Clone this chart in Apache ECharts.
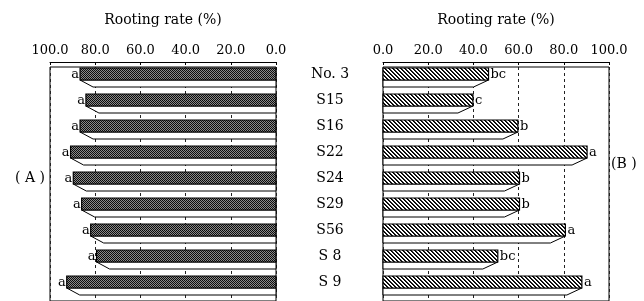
<!DOCTYPE html>
<html><head><meta charset="utf-8">
<script src="https://cdn.jsdelivr.net/npm/echarts@6/dist/echarts.min.js"></script>
<style>html,body{margin:0;padding:0;background:#fff}#c{width:644px;height:301px}</style>
</head><body><div id="c"></div>
<script>
const categories = ["No. 3", "S15", "S16", "S22", "S24", "S29", "S56", "S 8", "S 9"];
const rateA = [86.7, 84.1, 86.7, 90.9, 89.7, 86.0, 82.0, 79.4, 92.6];
const lettersA = ["a", "a", "a", "a", "a", "a", "a", "a", "a"];
const rateB = [46.7, 39.8, 59.7, 90.3, 60.4, 60.4, 80.7, 50.8, 88.0];
const lettersB = ["bc", "c", "b", "a", "b", "b", "a", "bc", "a"];
const tickValues = [0, 20, 40, 60, 80, 100];

const SERIF = "DejaVu Serif";

function makePattern(kind) {
  const cv = document.createElement('canvas');
  const ctx = cv.getContext('2d');
  if (kind === 'stipple') {
    cv.width = 2; cv.height = 2;
    ctx.fillStyle = '#0c0c0c'; ctx.fillRect(0, 0, 2, 2);
    ctx.fillStyle = '#8a8a8a'; ctx.fillRect(1, 0, 1, 1); ctx.fillRect(0, 1, 1, 1);
  } else {
    cv.width = 4; cv.height = 4;
    ctx.fillStyle = '#ffffff'; ctx.fillRect(0, 0, 4, 4);
    for (let i = 0; i < 4; i++) {
      ctx.fillStyle = '#000'; ctx.fillRect(i, i, 1, 1);
      ctx.fillStyle = '#222'; ctx.fillRect((i + 1) % 4, i, 1, 1);
    }
  }
  return cv;
}
const patA = makePattern('stipple');
const patB = makePattern('hatch');

function makeRender(side, pattern, letters) {
  return function (params, api) {
    const idx = api.value(1);
    const val = api.value(0);
    const p0 = api.coord([0, idx]);
    const pv = api.coord([val, idx]);
    const cy = p0[1];
    const x0 = p0[0], xv = pv[0];
    const top = cy - 12, bot = cy;
    const sh = 7;
    const left = Math.min(x0, xv), w = Math.abs(xv - x0);
    const font = '13px "' + SERIF + '"';
    const children = [];
    let shadowPts;
    if (side === 'left') {
      shadowPts = [[xv, bot], [xv + 13, bot + sh], [x0, bot + sh], [x0, bot]];
    } else {
      shadowPts = [[xv, bot], [xv - 15, bot + sh], [x0, bot + sh], [x0, bot]];
    }
    children.push({ type: 'polygon', shape: { points: shadowPts }, style: { fill: '#fff', stroke: '#000', lineWidth: 1 } });
    children.push({ type: 'rect', shape: { x: left, y: top, width: w, height: 12 }, style: { fill: { image: pattern, repeat: 'repeat' }, stroke: '#000', lineWidth: 1.2 } });
    if (side === 'left') {
      children.push({ type: 'text', style: { text: letters[params.dataIndex], x: xv - 1, y: cy - 5, align: 'right', verticalAlign: 'middle', font: font, fill: '#000' } });
    } else {
      children.push({ type: 'text', style: { text: letters[params.dataIndex], x: xv + 2, y: cy - 5, align: 'left', verticalAlign: 'middle', font: font, fill: '#000' } });
      children.push({ type: 'text', style: { text: categories[params.dataIndex], x: x0 - 53, y: cy - 6, align: 'center', verticalAlign: 'middle', font: '14px "' + SERIF + '"', fill: '#000' } });
    }
    return { type: 'group', children: children };
  };
}

const axisText = { fontFamily: SERIF, fontSize: 13, color: '#000' };

function xAxisCfg(gridIndex, inverse) {
  return {
    gridIndex: gridIndex, type: 'value', position: 'top', offset: 5,
    min: tickValues[0], max: tickValues[tickValues.length - 1], interval: 20, inverse: inverse,
    name: 'Rooting rate (%)', nameLocation: 'middle', nameGap: 35,
    nameTextStyle: { fontFamily: SERIF, fontSize: 14, color: '#000' },
    axisLine: { show: true, lineStyle: { color: '#000', width: 1 } },
    axisTick: { show: true, inside: true, length: 3, lineStyle: { color: '#000' } },
    axisLabel: Object.assign({ margin: 5, formatter: v => v.toFixed(1) }, axisText),
    splitLine: { show: true, lineStyle: { color: '#222', type: [3, 3], width: 1 } }
  };
}

const chart = echarts.init(document.getElementById('c'), null, { renderer: 'canvas' });
chart.setOption({
  animation: false,
  backgroundColor: '#fff',
  grid: [
    { left: 50, width: 226, top: 67, height: 237, show: true, borderColor: '#000', borderWidth: 1, backgroundColor: 'transparent' },
    { left: 383, width: 226, top: 67, height: 237, show: true, borderColor: '#000', borderWidth: 1, backgroundColor: 'transparent' }
  ],
  xAxis: [xAxisCfg(0, true), xAxisCfg(1, false)],
  yAxis: [
    { gridIndex: 0, type: 'category', data: categories, inverse: true, position: 'right',
      axisLine: { show: false }, axisTick: { show: false }, axisLabel: { show: false }, splitLine: { show: false } },
    { gridIndex: 1, type: 'category', data: categories, inverse: true, position: 'left',
      axisLine: { show: false }, axisTick: { show: false }, axisLabel: { show: false }, splitLine: { show: false } }
  ],
  series: [
    { type: 'custom', xAxisIndex: 0, yAxisIndex: 0, renderItem: makeRender('left', patA, lettersA),
      data: rateA.map((v, i) => [v, i]), encode: { x: 0, y: 1 }, clip: false },
    { type: 'custom', xAxisIndex: 1, yAxisIndex: 1, renderItem: makeRender('right', patB, lettersB),
      data: rateB.map((v, i) => [v, i]), encode: { x: 0, y: 1 }, clip: false }
  ],
  graphic: [
    { type: 'text', left: 15, top: 171, style: { text: '( A )', font: '14px "' + SERIF + '"', fill: '#000' } },
    { type: 'text', left: 611, top: 157, style: { text: '(B )', font: '14px "' + SERIF + '"', fill: '#000' } }
  ]
});
</script></body></html>
